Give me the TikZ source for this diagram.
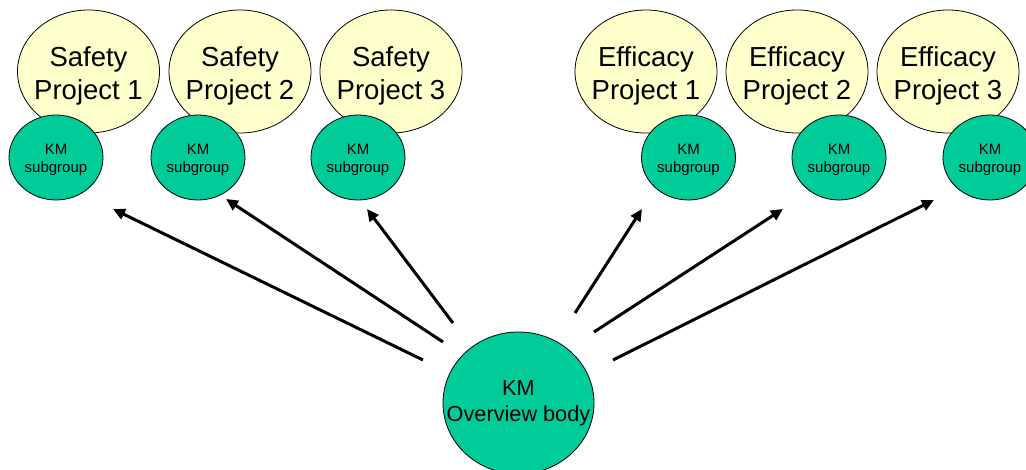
\documentclass[tikz,border=0pt]{standalone}
\usepackage{fontspec}
\setmainfont{Liberation Sans}
\usetikzlibrary{shapes.geometric,arrows.meta}
\definecolor{projyellow}{HTML}{FFFFCC}
\definecolor{kmgreen}{HTML}{00CC99}
\tikzset{
  project/.style={ellipse, draw=black, line width=0.8pt, fill=projyellow, inner sep=0pt,
    minimum width=142pt, minimum height=123pt},
  projtext/.style={align=center, inner sep=0pt, font=\fontsize{27.5}{33}\selectfont},
  subgroup/.style={ellipse, draw=black, line width=0.8pt, fill=kmgreen, inner sep=0pt,
    minimum width=94pt, minimum height=85pt},
  subtext/.style={align=center, inner sep=0pt, font=\fontsize{15}{18}\selectfont},
  overview/.style={ellipse, draw=black, line width=0.8pt, fill=kmgreen, inner sep=0pt,
    minimum width=151pt, minimum height=142pt},
  ovtext/.style={align=center, inner sep=0pt, font=\fontsize{21.7}{26}\selectfont},
  link/.style={line width=3pt, -{Triangle[length=12pt,width=11pt]}}
}
\begin{document}
\begin{tikzpicture}[x=1pt,y=-1pt]
\clip (0,0) rectangle (1026,470);
\useasboundingbox (0,0) rectangle (1026,470);
% safety projects
\node[project] (s1) at (88.5,71.5) {};
\node[projtext] (s1t) at ([yshift=-4pt]s1.center) {Safety\\Project 1};
\node[subgroup] (k1) at (56,157.5) {};
\node[subtext] (k1t) at ([yshift=-2pt]k1.center) {KM\\subgroup};
\node[project] (s2) at (240,71.5) {};
\node[projtext] (s2t) at ([yshift=-4pt]s2.center) {Safety\\Project 2};
\node[subgroup] (k2) at (198,157.5) {};
\node[subtext] (k2t) at ([yshift=-2pt]k2.center) {KM\\subgroup};
\node[project] (s3) at (391,71.5) {};
\node[projtext] (s3t) at ([yshift=-4pt]s3.center) {Safety\\Project 3};
\node[subgroup] (k3) at (358,157.5) {};
\node[subtext] (k3t) at ([yshift=-2pt]k3.center) {KM\\subgroup};
% efficacy projects
\node[project] (e1) at (646,71.5) {};
\node[projtext] (e1t) at ([yshift=-4pt]e1.center) {Efficacy\\Project 1};
\node[subgroup] (k4) at (688.5,157.5) {};
\node[subtext] (k4t) at ([yshift=-2pt]k4.center) {KM\\subgroup};
\node[project] (e2) at (797,71.5) {};
\node[projtext] (e2t) at ([yshift=-4pt]e2.center) {Efficacy\\Project 2};
\node[subgroup] (k5) at (839,157.5) {};
\node[subtext] (k5t) at ([yshift=-2pt]k5.center) {KM\\subgroup};
\node[project] (e3) at (948,71.5) {};
\node[projtext] (e3t) at ([yshift=-4pt]e3.center) {Efficacy\\Project 3};
\node[subgroup] (k6) at (990,157.5) {};
\node[subtext] (k6t) at ([yshift=-2pt]k6.center) {KM\\subgroup};
% overview
\node[overview] (ov) at (518.5,403) {};
\node[ovtext] (ovt) at (ov.center) {KM\\Overview body};
% arrow ends
\coordinate (t1) at (423,360);
\coordinate (h1) at (113,209);
\coordinate (t2) at (443,342);
\coordinate (h2) at (226,199);
\coordinate (t3) at (453,323);
\coordinate (h3) at (367,209);
\coordinate (t4) at (575,313);
\coordinate (h4) at (642,209);
\coordinate (t5) at (594,332);
\coordinate (h5) at (783,209);
\coordinate (t6) at (613,360);
\coordinate (h6) at (934,200);
\draw[link] (t1) -- (h1);
\draw[link] (t2) -- (h2);
\draw[link] (t3) -- (h3);
\draw[link] (t4) -- (h4);
\draw[link] (t5) -- (h5);
\draw[link] (t6) -- (h6);
\end{tikzpicture}
\end{document}
